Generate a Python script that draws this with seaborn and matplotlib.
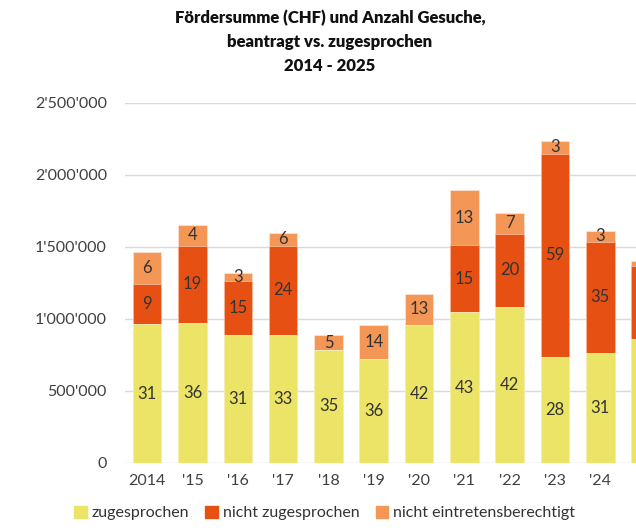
import numpy as np
import pandas as pd
import matplotlib.pyplot as plt
import seaborn as sns
from matplotlib.patches import Patch
from matplotlib.ticker import FuncFormatter

# Data (CHF amounts and number of applications)
years = ["2014", "'15", "'16", "'17", "'18", "'19", "'20", "'21", "'22", "'23", "'24", "'25"]
chf_zugesprochen = [965000, 974000, 891000, 889000, 785000, 720000, 958000, 1046000, 1085000, 738000, 762000, 859000]
chf_nicht_zug = [278000, 533000, 373000, 618000, 0, 0, 0, 468000, 507000, 1408000, 775000, 511000]
chf_nicht_eintr = [222000, 146000, 55000, 93000, 102000, 236000, 216000, 380000, 144000, 90000, 74000, 33000]
n_zugesprochen = [31, 36, 31, 33, 35, 36, 42, 43, 42, 28, 31, None]
n_nicht_zug = [9, 19, 15, 24, 0, 0, 0, 15, 20, 59, 35, None]
n_nicht_eintr = [6, 4, 3, 6, 5, 14, 13, 13, 7, 3, 3, None]

df = pd.DataFrame({
    'Jahr': years,
    'zug': chf_zugesprochen,
    'nzug': chf_nicht_zug,
    'nein': chf_nicht_eintr,
})
df['top_nzug'] = df['zug'] + df['nzug']
df['top_nein'] = df['top_nzug'] + df['nein']

c_yellow = '#ECE466'
c_red = '#E65012'
c_orange = '#F39656'
txt = '#333333'

sns.set_theme(style='white')
plt.rcParams['font.family'] = ['Lato', 'DejaVu Sans']

fig = plt.figure(figsize=(6.36, 5.32), dpi=100)
# axes runs past the right edge, like the cropped original
ax = fig.add_axes([125 / 636, 69 / 532, 565 / 636, 360 / 532])

# stacked bars: draw cumulative totals back to front
bw = 0.63
sns.barplot(data=df, x='Jahr', y='top_nein', color=c_orange, width=bw, saturation=1,
            edgecolor='#fbe3d2', linewidth=0.6, ax=ax)
sns.barplot(data=df, x='Jahr', y='top_nzug', color=c_red, width=bw, saturation=1,
            edgecolor='#f5b89a', linewidth=0.6, ax=ax)
sns.barplot(data=df, x='Jahr', y='zug', color=c_yellow, width=bw, saturation=1,
            edgecolor='#f7f3c0', linewidth=0.6, ax=ax)

# count labels in the middle of each segment
for i in range(len(years)):
    segs = [(0, df['zug'][i], n_zugesprochen[i]),
            (df['zug'][i], df['top_nzug'][i], n_nicht_zug[i]),
            (df['top_nzug'][i], df['top_nein'][i], n_nicht_eintr[i])]
    for lo, hi, n in segs:
        if n is None or hi - lo <= 0:
            continue
        ax.text(i, (lo + hi) / 2, str(n), ha='center', va='center',
                fontsize=12, color=txt)

ax.set_xlim(-0.49, 11.98)
ax.set_ylim(0, 2500000)
ax.set_yticks(np.arange(0, 2500001, 500000))
ax.yaxis.set_major_formatter(FuncFormatter(lambda v, p: f"{int(v):,}".replace(',', "'")))
ax.grid(axis='y', color='#d9d9d9', linewidth=1)
ax.set_axisbelow(True)
for s in ['top', 'right', 'left', 'bottom']:
    ax.spines[s].set_visible(False)
ax.tick_params(axis='both', length=0, labelsize=11.5, colors='#404040')
ax.tick_params(axis='y', pad=13)
ax.tick_params(axis='x', pad=8)
ax.set_xlabel('')
ax.set_ylabel('')

fig.text(330 / 636, 1 - 10 / 532,
         'Fördersumme (CHF) und Anzahl Gesuche,\nbeantragt vs. zugesprochen\n2014 - 2025',
         ha='center', va='top', fontsize=12, fontweight='heavy', color='#111111',
         linespacing=1.6)

handles = [Patch(color=c_yellow), Patch(color=c_red), Patch(color=c_orange)]
labels = ['zugesprochen', 'nicht zugesprochen', 'nicht eintretensberechtigt']
fig.legend(handles, labels, loc='lower left', bbox_to_anchor=(60 / 636, -0.005), ncol=3,
           frameon=False, fontsize=11.5, handlelength=0.8, handleheight=0.8,
           handletextpad=0.3, columnspacing=1.0, labelcolor='#333333')

fig.savefig('out.png', dpi=100)
